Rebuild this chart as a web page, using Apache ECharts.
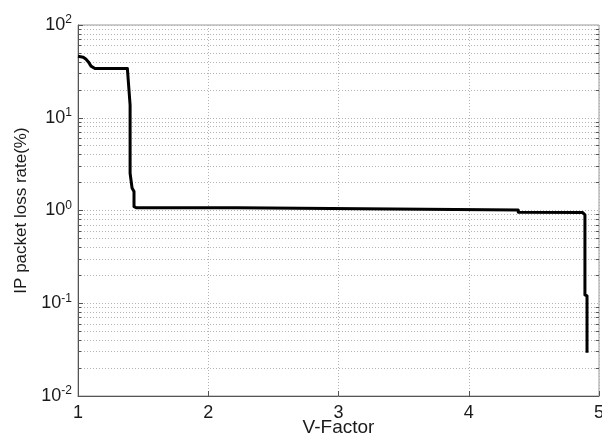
<!DOCTYPE html>
<html>
<head>
<meta charset="utf-8">
<script src="https://cdn.jsdelivr.net/npm/echarts@6/dist/echarts.min.js"></script>
<style>
  html, body { margin: 0; padding: 0; background: #fff; }
  #chart { width: 602px; height: 438px; }
</style>
</head>
<body>
<div id="chart"></div>
<script>
// V-Factor vs IP packet loss rate
const vFactor = [1.00, 1.04, 1.06, 1.08, 1.10, 1.13, 1.379, 1.40, 1.40, 1.415, 1.415, 1.43, 1.43, 1.45, 2.22, 2.22, 4.38, 4.38, 4.875, 4.892, 4.892, 4.908, 4.908]
const lossRate = [46, 45, 43, 40, 36, 34, 34, 13.7, 2.52, 2.4, 1.75, 1.6, 1.10, 1.07, 1.07, 1.02, 1.01, 0.96, 0.95, 0.90, 0.123, 0.12, 0.0293]

const xTicks = [1, 2, 3, 4, 5]
const decades = [0.01, 0.1, 1, 10]
const minorSteps = [2, 3, 4, 5, 6, 7, 8, 9]

const gridColor = '#b4b4b4'
const textFont = '"Liberation Sans", Arial, sans-serif'

const minorValues = []
decades.forEach((d) => minorSteps.forEach((m) => minorValues.push(Number((d * m).toPrecision(3)))))

const minorGrid = minorValues.map((v) => ({ yAxis: v }))
const minorTicks = []
minorValues.forEach((v) => {
  minorTicks.push([{ coord: [1, v] }, { coord: [1.025, v] }])
  minorTicks.push([{ coord: [4.975, v] }, { coord: [5, v] }])
})

const chart = echarts.init(document.getElementById('chart'))
chart.setOption({
  animation: false,
  backgroundColor: '#fff',
  grid: {
    left: 78, right: 3, top: 25, bottom: 42,
    outerBoundsMode: 'none',
    containLabel: false,
    show: true, borderColor: '#9a9a9a', borderWidth: 1
  },
  xAxis: {
    type: 'value',
    min: 1, max: 5, interval: 1,
    name: 'V-Factor',
    nameLocation: 'middle',
    nameGap: 22,
    nameMoveOverlap: false,
    nameTextStyle: { fontFamily: textFont, fontSize: 19, color: '#1a1a1a' },
    axisLine: { show: true, lineStyle: { color: '#555', width: 1 } },
    axisTick: { show: true, inside: true, length: 5, lineStyle: { color: '#555' } },
    axisLabel: { fontFamily: textFont, fontSize: 18, color: '#1a1a1a', margin: 8, showMinLabel: true, showMaxLabel: true, hideOverlap: false },
    splitLine: { show: true, lineStyle: { color: gridColor, type: [1, 2], width: 1 } }
  },
  yAxis: {
    type: 'log',
    logBase: 10,
    min: 0.01, max: 100,
    name: 'IP packet loss rate(%)',
    nameLocation: 'middle',
    nameGap: 48,
    nameMoveOverlap: false,
    nameTextStyle: { fontFamily: textFont, fontSize: 17, color: '#1a1a1a' },
    axisLine: { show: true, lineStyle: { color: '#555', width: 1 } },
    axisTick: { show: true, inside: true, length: 5, lineStyle: { color: '#555' } },
    axisLabel: {
      margin: 6,
      hideOverlap: false,
      formatter: (value) => {
        const exp = Math.round(Math.log10(value))
        return '{b|10}{s|' + String(exp) + '}'
      },
      rich: {
        b: { fontFamily: textFont, fontSize: 18, color: '#1a1a1a', lineHeight: 22 },
        s: { fontFamily: textFont, fontSize: 12, color: '#1a1a1a', lineHeight: 13, verticalAlign: 'top' }
      }
    },
    splitLine: { show: true, lineStyle: { color: gridColor, type: [1, 2], width: 1 } }
  },
  series: [
    {
      type: 'line',
      data: [],
      silent: true,
      markLine: {
        silent: true,
        symbol: 'none',
        animation: false,
        label: { show: false },
        lineStyle: { color: gridColor, type: [1, 2], width: 1 },
        data: minorGrid
      }
    },
    {
      type: 'line',
      data: [],
      silent: true,
      markLine: {
        silent: true,
        symbol: 'none',
        animation: false,
        label: { show: false },
        lineStyle: { color: '#555', type: 'solid', width: 1 },
        data: minorTicks
      }
    },
    {
      type: 'line',
      data: vFactor.map((x, i) => [x, lossRate[i]]),
      showSymbol: false,
      symbol: 'none',
      lineStyle: { color: '#000', width: 3, join: 'round' },
      z: 5
    }
  ]
})
</script>
</body>
</html>
